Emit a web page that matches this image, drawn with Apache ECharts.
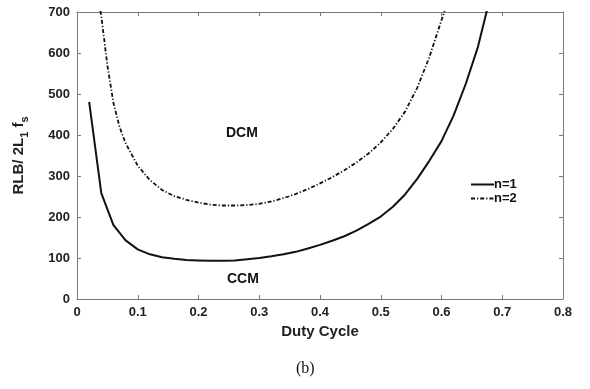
<!DOCTYPE html>
<html>
<head>
<meta charset="utf-8">
<script src="https://cdn.jsdelivr.net/npm/echarts@6/dist/echarts.min.js"></script>
<style>
html,body{margin:0;padding:0;background:#fff;}
#chart{width:590px;height:389px;}
</style>
</head>
<body>
<div id="chart"></div>
<script>
// Duty cycle samples and normalized load (RLB / 2L1 fs)
const dutyN1 = [0.02,0.04,0.06,0.08,0.10,0.12,0.14,0.16,0.18,0.20,0.22,0.24,0.26,0.28,0.30,0.32,0.34,0.36,0.38,0.40,0.42,0.44,0.46,0.48,0.50,0.52,0.54,0.56,0.58,0.60,0.62,0.64,0.66,0.68];
const rlbN1  = [481,258,180,143,121,109,102,98,95,94,93,93,94,97,100,104,109,115,123,132,142,153,167,183,201,225,255,293,337,385,448,525,615,735];

const dutyN2 = [0.036,0.04,0.05,0.06,0.07,0.08,0.10,0.12,0.14,0.16,0.18,0.20,0.22,0.24,0.26,0.28,0.30,0.32,0.34,0.36,0.38,0.40,0.42,0.44,0.46,0.48,0.50,0.52,0.54,0.56,0.58,0.60,0.61];
const rlbN2  = [725,690,570,478,420,380,325,290,266,251,242,235,230,228,228,229,232,238,246,256,268,282,297,314,333,355,382,415,457,515,590,680,725];

const seriesNames = ['n=1','n=2'];
const xTicks = {min:0, max:0.8, interval:0.1};
const yTicks = {min:0, max:700, interval:100};
const regionLabels = ['DCM','CCM'];

const pairs = (xs, ys) => xs.map((x,i)=>[x, ys[i]]);

const axisGray = '#7a7a7a';
const font = '"Liberation Sans", Arial, Helvetica, sans-serif';

const chart = echarts.init(document.getElementById('chart'), null, {renderer:'canvas'});
chart.setOption({
  animation:false,
  backgroundColor:'#ffffff',
  grid:{left:77, right:27, top:12, bottom:90},
  legend:{
    orient:'vertical', left:465, top:173,
    itemWidth:23, itemHeight:14, itemGap:1,
    itemStyle:{opacity:0},
    textStyle:{fontFamily:font, fontWeight:'bold', fontSize:13, color:'#111', padding:[0,0,0,-5]},
    data:seriesNames
  },
  xAxis:[{
    type:'value', min:xTicks.min, max:xTicks.max, interval:xTicks.interval,
    name:'Duty Cycle', nameLocation:'middle', nameGap:23,
    nameTextStyle:{fontFamily:font, fontWeight:'bold', fontSize:15, color:'#222'},
    axisLine:{show:true, onZero:false, lineStyle:{color:axisGray, width:1}},
    axisTick:{show:true, inside:true, length:4, lineStyle:{color:axisGray}},
    axisLabel:{fontFamily:font, fontWeight:'bold', fontSize:13, color:'#222', margin:7},
    splitLine:{show:false}
  },{
    type:'value', position:'top', min:xTicks.min, max:xTicks.max, interval:xTicks.interval,
    axisLine:{show:true, onZero:false, lineStyle:{color:axisGray, width:1}},
    axisTick:{show:true, inside:true, length:4, lineStyle:{color:axisGray}},
    axisLabel:{show:false}, splitLine:{show:false}
  }],
  yAxis:[{
    type:'value', min:yTicks.min, max:yTicks.max, interval:yTicks.interval,
    name:'{a|RLB/ 2L}{s|1}{a| f}{s|s}', nameLocation:'middle', nameGap:47,
    nameTextStyle:{
      fontFamily:font, fontWeight:'bold', color:'#222',
      rich:{
        a:{fontFamily:font, fontWeight:'bold', fontSize:15, color:'#222', lineHeight:22, verticalAlign:'middle'},
        s:{fontFamily:font, fontWeight:'bold', fontSize:11, color:'#222', lineHeight:22, verticalAlign:'bottom'}
      }
    },
    axisLine:{show:true, onZero:false, lineStyle:{color:axisGray, width:1}},
    axisTick:{show:true, inside:true, length:4, lineStyle:{color:axisGray}},
    axisLabel:{fontFamily:font, fontWeight:'bold', fontSize:13, color:'#222', margin:7},
    splitLine:{show:false}
  },{
    type:'value', position:'right', min:yTicks.min, max:yTicks.max, interval:yTicks.interval,
    axisLine:{show:true, onZero:false, lineStyle:{color:axisGray, width:1}},
    axisTick:{show:true, inside:true, length:4, lineStyle:{color:axisGray}},
    axisLabel:{show:false}, splitLine:{show:false}
  }],
  series:[{
    name:seriesNames[0], type:'line', data:pairs(dutyN1, rlbN1),
    symbol:'none', clip:true, smooth:false,
    lineStyle:{color:'#111', width:2, type:'solid'},
    itemStyle:{color:'#111'}
  },{
    name:seriesNames[1], type:'line', data:pairs(dutyN2, rlbN2),
    symbol:'none', clip:true, smooth:false,
    lineStyle:{color:'#111', width:1.8, type:[4,2,1.2,2]},
    itemStyle:{color:'#111'}
  }],
  graphic:[
    {type:'text', left:226, top:126, style:{text:regionLabels[0], font:'bold 14px '+font, fill:'#111'}},
    {type:'text', left:227, top:272, style:{text:regionLabels[1], font:'bold 14px '+font, fill:'#111'}},
    {type:'text', left:296, top:361, style:{text:'(b)', font:'16px "Liberation Serif", "Times New Roman", serif', fill:'#111'}}
  ]
});
</script>
</body>
</html>
